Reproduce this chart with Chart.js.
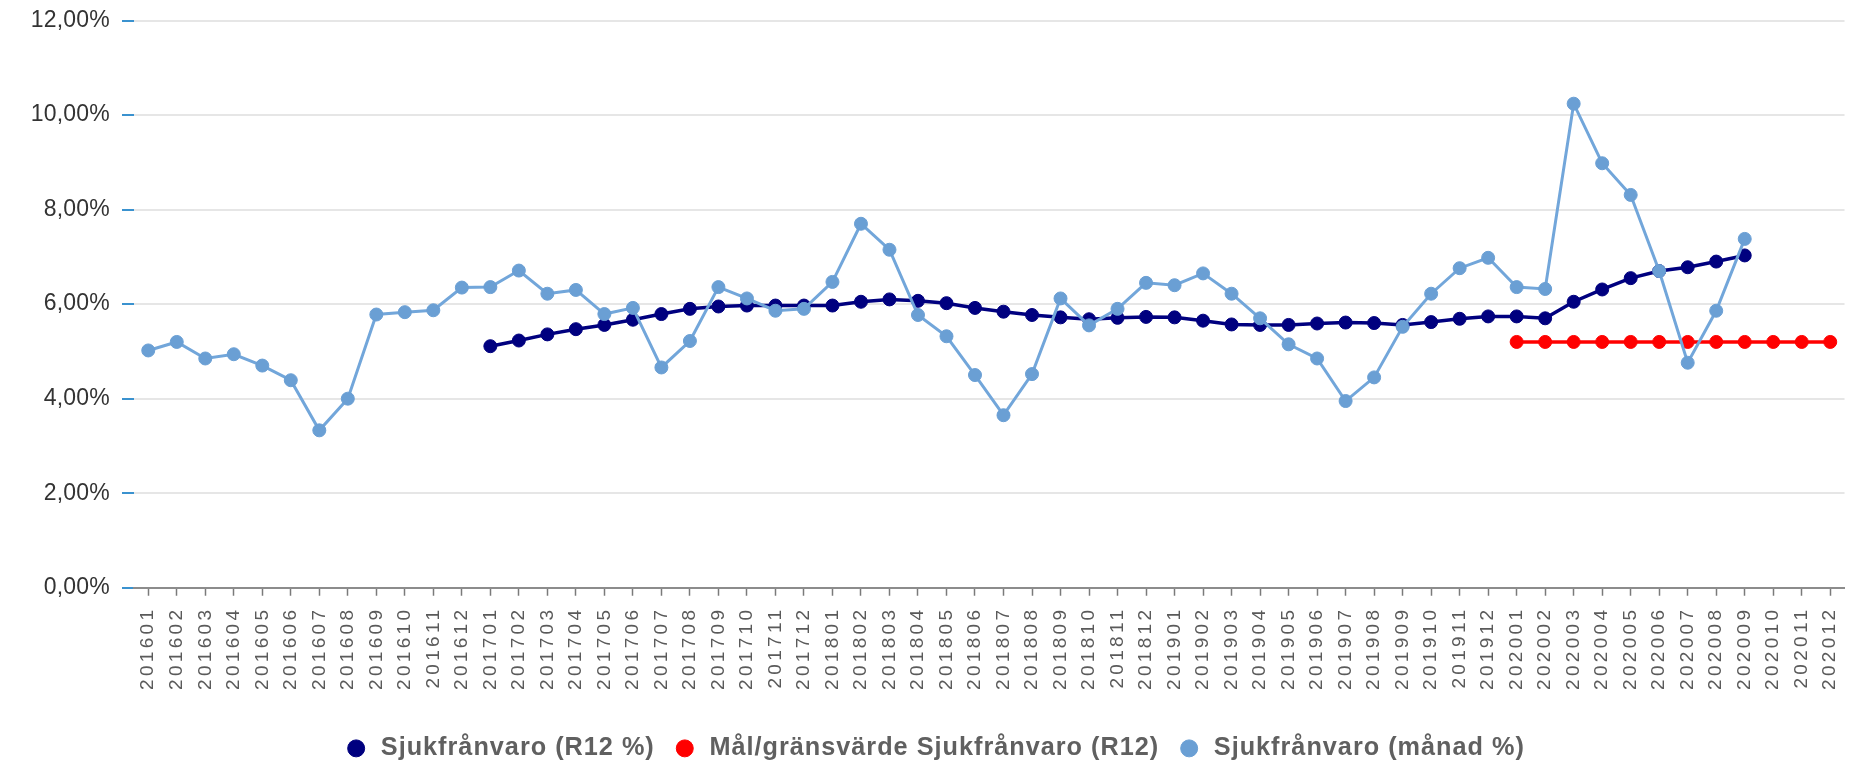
<!DOCTYPE html>
<html>
<head>
<meta charset="utf-8">
<script src="https://cdn.jsdelivr.net/npm/chart.js@4/dist/chart.umd.min.js"></script>
<style>
  html, body { margin: 0; padding: 0; background: #ffffff; }
  #wrap { width: 1852px; height: 766px; }
</style>
</head>
<body>
<div id="wrap"><canvas id="c" width="1852" height="766"></canvas></div>
<script>
const categories = [
  '201601','201602','201603','201604','201605','201606','201607','201608','201609','201610','201611','201612',
  '201701','201702','201703','201704','201705','201706','201707','201708','201709','201710','201711','201712',
  '201801','201802','201803','201804','201805','201806','201807','201808','201809','201810','201811','201812',
  '201901','201902','201903','201904','201905','201906','201907','201908','201909','201910','201911','201912',
  '202001','202002','202003','202004','202005','202006','202007','202008','202009','202010','202011','202012'
];

const seriesNames = ['Sjukfrånvaro (R12 %)', 'Mål/gränsvärde Sjukfrånvaro (R12)', 'Sjukfrånvaro (månad %)'];

const r12Values = [
  null, null, null, null, null, null, null, null, null, null, null, null,
  5.11, 5.23, 5.36, 5.47, 5.56, 5.67, 5.79, 5.90, 5.95, 5.97, 5.97, 5.97,
  5.97, 6.05, 6.10, 6.07, 6.02, 5.92, 5.84, 5.77, 5.72, 5.68, 5.71, 5.73,
  5.72, 5.65, 5.57, 5.56, 5.56, 5.59, 5.61, 5.60, 5.56, 5.62, 5.69, 5.74,
  5.74, 5.70, 6.05, 6.31, 6.55, 6.70, 6.78, 6.90, 7.03, null, null, null
];

const targetValues = [
  null, null, null, null, null, null, null, null, null, null, null, null,
  null, null, null, null, null, null, null, null, null, null, null, null,
  null, null, null, null, null, null, null, null, null, null, null, null,
  null, null, null, null, null, null, null, null, null, null, null, null,
  5.2, 5.2, 5.2, 5.2, 5.2, 5.2, 5.2, 5.2, 5.2, 5.2, 5.2, 5.2
];

const monthlyValues = [
  5.02, 5.20, 4.85, 4.94, 4.70, 4.39, 3.33, 4.00, 5.78, 5.83, 5.87, 6.35,
  6.36, 6.71, 6.22, 6.30, 5.79, 5.92, 4.66, 5.22, 6.36, 6.12, 5.86, 5.90,
  6.47, 7.70, 7.15, 5.77, 5.32, 4.50, 3.65, 4.52, 6.12, 5.55, 5.90, 6.45,
  6.40, 6.65, 6.22, 5.70, 5.15, 4.85, 3.95, 4.45, 5.52, 6.22, 6.76, 6.98,
  6.36, 6.32, 10.24, 8.98, 8.31, 6.70, 4.76, 5.86, 7.38, null, null, null
];

const yTicks = [0, 2, 4, 6, 8, 10, 12];

const FONT = "'Liberation Sans', Arial, Helvetica, sans-serif";
Chart.defaults.font.family = FONT;

function patchLabels(sc, spacing) {
  if (!sc || sc._spPatched) return;
  const orig = sc.drawLabels;
  sc.drawLabels = function (area) {
    const ctx = this.ctx;
    ctx.letterSpacing = spacing;
    orig.call(this, area);
    ctx.letterSpacing = '1px';
  };
  sc._spPatched = true;
}

const spacingPlugin = {
  id: 'spacingPlugin',
  beforeLayout(chart) { chart.ctx.letterSpacing = '1px'; },
  beforeDraw(chart) {
    chart.ctx.letterSpacing = '1px';
    patchLabels(chart.scales.x, '3.3px');
    patchLabels(chart.scales.y, '0.2px');
  }
};

new Chart(document.getElementById('c'), {
  type: 'line',
  data: {
    labels: categories,
    datasets: [
      {
        label: seriesNames[0],
        data: r12Values,
        borderColor: '#00007f',
        backgroundColor: '#00007f',
        pointBackgroundColor: '#00007f',
        pointBorderColor: '#00007f',
        borderWidth: 3.5,
        pointRadius: 6.5,
        pointBorderWidth: 1,
        tension: 0,
        order: 2
      },
      {
        label: seriesNames[1],
        data: targetValues,
        borderColor: '#ff0000',
        backgroundColor: '#ff0000',
        pointBackgroundColor: '#ff0000',
        pointBorderColor: '#ff0000',
        borderWidth: 3.5,
        pointRadius: 6.5,
        pointBorderWidth: 1,
        tension: 0,
        order: 3
      },
      {
        label: seriesNames[2],
        data: monthlyValues,
        borderColor: '#72a6da',
        backgroundColor: '#6a9fd4',
        pointBackgroundColor: '#6a9fd4',
        pointBorderColor: '#6a9fd4',
        borderWidth: 3,
        pointRadius: 6.5,
        pointBorderWidth: 1,
        tension: 0,
        order: 1
      }
    ]
  },
  options: {
    responsive: false,
    animation: false,
    devicePixelRatio: 1,
    layout: { padding: { left: 20, right: 3, top: 20.5, bottom: -5 } },
    plugins: {
      tooltip: { enabled: false },
      legend: {
        position: 'bottom',
        labels: {
          usePointStyle: true,
          pointStyle: 'circle',
          boxWidth: 24,
          boxHeight: 12,
          padding: 18,
          color: '#606060',
          font: { size: 25.25, weight: 'bold', family: FONT },
          sort: (a, b) => a.datasetIndex - b.datasetIndex
        }
      }
    },
    scales: {
      x: {
        offset: true,
        border: { display: true, color: '#8c8c8c', width: 2 },
        grid: {
          display: true,
          drawOnChartArea: false,
          drawTicks: true,
          tickLength: 8,
          tickColor: '#7a7a7a',
          tickWidth: 1.5,
          offset: false
        },
        ticks: {
          autoSkip: false,
          minRotation: 90,
          maxRotation: 90,
          padding: 11,
          color: '#5a5a5a',
          font: { size: 19, family: FONT }
        },
        afterFit(scale) {
          scale.height = 130;
          scale.paddingLeft = 0;
          scale.paddingRight = 0;
        }
      },
      y: {
        min: 0,
        max: 12,
        border: { display: false },
        grid: {
          color: '#e6e6e6',
          lineWidth: 2,
          drawTicks: true,
          tickLength: 12,
          tickColor: '#3a92cf',
          tickWidth: 2
        },
        afterBuildTicks(scale) {
          scale.ticks = yTicks.map(v => ({ value: v }));
        },
        ticks: {
          padding: 12,
          color: '#333333',
          font: { size: 23, family: FONT },
          callback: (v) => Number(v).toFixed(2).replace('.', ',') + '%'
        },
        afterFit(scale) {
          scale.width = 114;
          scale.paddingTop = 0;
          scale.paddingBottom = 0;
        }
      }
    }
  },
  plugins: [spacingPlugin]
});
</script>
</body>
</html>
